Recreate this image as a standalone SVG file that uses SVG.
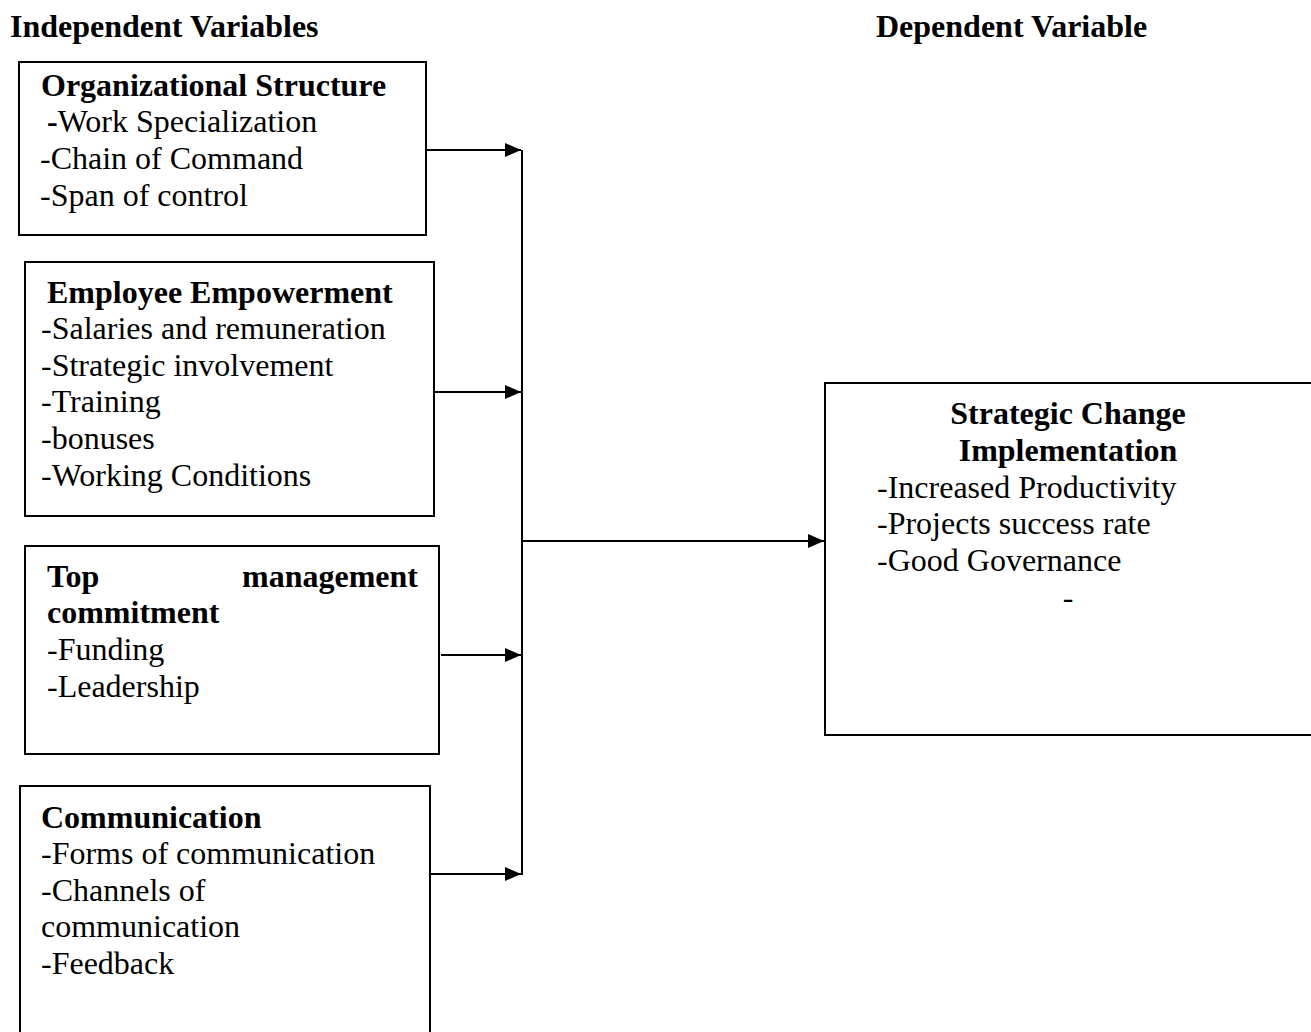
<svg xmlns="http://www.w3.org/2000/svg" width="1311" height="1032" viewBox="0 0 1311 1032">
<style>
text{font-family:"Liberation Serif","Times New Roman",serif;font-size:32px;fill:#000}
.b{font-weight:bold}
.box{fill:#fff;stroke:#000;stroke-width:2}
.ln{stroke:#000;stroke-width:2;fill:none}
</style>
<defs>
<marker id="ah2" markerWidth="16" markerHeight="14" refX="16" refY="7" orient="auto" markerUnits="userSpaceOnUse"><path d="M0,0 L16,7 L0,14 Z" fill="#000"/></marker>
</defs>
<rect width="1311" height="1032" fill="#fff"/>
<g id="headers">
<text class="b" x="10" y="37">Independent Variables</text>
<text class="b" x="876" y="37">Dependent Variable</text>
</g>
<g id="org">
<rect class="box" x="19" y="62" width="407" height="173"/>
<text class="b" x="41" y="96">Organizational Structure</text>
<text x="47" y="132"><tspan class="b">-</tspan>Work Specialization</text>
<text x="40" y="169">-Chain of Command</text>
<text x="40" y="206">-Span of control</text>
</g>
<g id="emp">
<rect class="box" x="25" y="262" width="409" height="254"/>
<text class="b" x="47" y="303">Employee Empowerment</text>
<text x="41" y="339">-Salaries and remuneration</text>
<text x="41" y="376">-Strategic involvement</text>
<text x="41" y="412">-Training</text>
<text x="41" y="449">-bonuses</text>
<text x="41" y="486">-Working Conditions</text>
</g>
<g id="top">
<rect class="box" x="25" y="546" width="414" height="208"/>
<text class="b" x="47" y="587">Top</text>
<text class="b" x="418" y="587" text-anchor="end">management</text>
<text class="b" x="47" y="623">commitment</text>
<text x="47" y="660">-Funding</text>
<text x="47" y="697">-Leadership</text>
</g>
<g id="comm">
<rect class="box" x="20" y="786" width="410" height="250"/>
<text class="b" x="41" y="828">Communication</text>
<text x="41" y="864">-Forms of communication</text>
<text x="41" y="901">-Channels of</text>
<text x="41" y="937">communication</text>
<text x="41" y="974">-Feedback</text>
</g>
<g id="sci">
<rect class="box" x="825" y="383" width="490" height="352"/>
<text class="b" x="1068" y="424" text-anchor="middle">Strategic Change</text>
<text class="b" x="1068" y="461" text-anchor="middle">Implementation</text>
<text x="877" y="498">-Increased Productivity</text>
<text x="877" y="534">-Projects success rate</text>
<text x="877" y="571">-Good Governance</text>
<text x="1068" y="608" text-anchor="middle">-</text>
</g>
<g id="connectors">
<line class="ln" x1="522" y1="150" x2="522" y2="875"/>
<line class="ln" x1="426" y1="150" x2="521" y2="150" marker-end="url(#ah2)"/>
<line class="ln" x1="434" y1="392" x2="521" y2="392" marker-end="url(#ah2)"/>
<line class="ln" x1="441" y1="655" x2="521" y2="655" marker-end="url(#ah2)"/>
<line class="ln" x1="430" y1="874" x2="521" y2="874" marker-end="url(#ah2)"/>
<line class="ln" x1="522" y1="541" x2="824" y2="541" marker-end="url(#ah2)"/>
</g>
</svg>
